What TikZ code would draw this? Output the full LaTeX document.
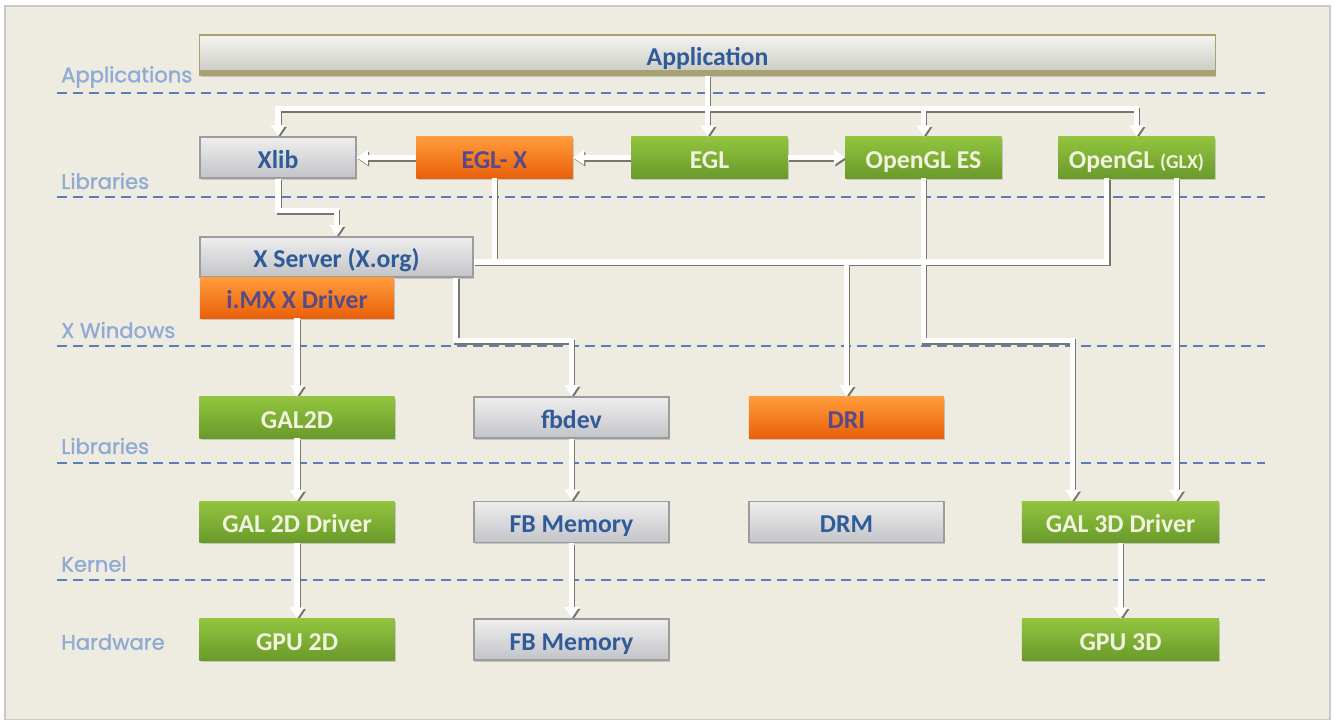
\documentclass[tikz,border=0pt]{standalone}
\usepackage{fontspec}
\setmainfont{Carlito}
\newfontfamily\layerfont{Poppins}[FakeBold=1.2]
\usepackage{xcolor}
\usepackage{tikz}
\usetikzlibrary{arrows.meta,shadows}
\definecolor{bgbeige}{HTML}{EEEBE1}
\definecolor{framegrey}{HTML}{C9C9C9}
\definecolor{dashblue}{HTML}{5B7DB8}
\definecolor{lyrblue}{HTML}{8FAAD3}
\definecolor{txtblue}{HTML}{2F5B98}
\definecolor{txtgreen}{HTML}{F0F4DC}
\definecolor{txtpurple}{HTML}{584A86}
\definecolor{greytop}{HTML}{EEEEEE}
\definecolor{greybot}{HTML}{C3C4C8}
\definecolor{boxedge}{HTML}{9C9C9C}
\definecolor{greentop}{HTML}{92C43F}
\definecolor{greenbot}{HTML}{6A9A2B}
\definecolor{orangetop}{HTML}{FF9B3B}
\definecolor{orangebot}{HTML}{E9600A}
\definecolor{apptop}{HTML}{F5F4F0}
\definecolor{appbot}{HTML}{C8C8C2}
\definecolor{appedge}{HTML}{A8A172}
\definecolor{wiregrey}{HTML}{77766A}

\pgfdeclarelayer{back}
\pgfdeclarelayer{wireshade}
\pgfsetlayers{back,wireshade,main}

% white connector with its shadow drawn one layer lower
\newcommand{\wire}[1]{%
  \begin{pgfonlayer}{wireshade}\draw[wire,wiredrop] #1;\end{pgfonlayer}%
  \draw[wire] #1;}

\begin{document}
\begin{tikzpicture}[x=0.025cm, y=-0.025cm,
    box/.style={minimum height=1.025cm, inner sep=0pt, text height=15.5pt, text depth=0pt,
      font=\fontsize{18.3}{20}\selectfont\bfseries,
      drop shadow={opacity=0.35, shadow xshift=0.8pt, shadow yshift=-1.2pt}},
    greybox/.style={box, draw=boxedge, line width=0.8pt, top color=greytop, bottom color=greybot, text=txtblue},
    greenbox/.style={box, top color=greentop, bottom color=greenbot, text=txtgreen},
    orangebox/.style={box, top color=orangetop, bottom color=orangebot, text=txtpurple},
    appbox/.style={box, draw=appedge, line width=0.8pt, top color=apptop, bottom color=appbot, text=txtblue,
      path picture={\fill[appedge] (path picture bounding box.south west) rectangle ([yshift=0.12cm]path picture bounding box.south east);}},
    narrow/.style={minimum width=3.9cm},
    broad/.style={minimum width=4.875cm},
    lyr/.style={font=\layerfont\fontsize{15}{17}\selectfont, text=lyrblue, anchor=west, inner sep=0pt},
    sep/.style={draw=dashblue, line width=1.1pt, dash pattern=on 0.25cm off 0.15cm},
    wire/.style={draw=white, line width=3.6pt, -{Triangle[length=8pt,width=10pt]}},
    wiredrop/.style={draw=wiregrey, transform canvas={shift={(1pt,-1.2pt)}}}]

    \useasboundingbox (0,0) rectangle (1335,720);
    \begin{pgfonlayer}{back}
    \fill[white] (0,0) rectangle (1335,720);
    \fill[bgbeige, draw=framegrey, line width=1pt] (5,6) rectangle (1330,720);
    % layer separators
    \foreach \yy in {93,197,346,463,580}
        \draw[sep] (57,\yy) -- (1265,\yy);
    \end{pgfonlayer}

    \node[lyr] (lApps) at (61,77) {Applications};
    \node[lyr] (lLibs) at (61,181) {Libraries};
    \node[lyr] (lXwin) at (61,330) {X Windows};
    \node[lyr] (lLibsB) at (61,446) {Libraries};
    \node[lyr] (lKern) at (61,564) {Kernel};
    \node[lyr] (lHw) at (61,642) {Hardware};

    \node[appbox, minimum width=25.375cm, minimum height=1cm] (app) at (707.5,55) {Application};

    \node[greybox, narrow] (xlib) at (278,157.5) {Xlib};
    \node[orangebox, narrow] (eglx) at (494.5,157.5) {EGL- X};
    \node[greenbox, narrow] (egl) at (709.5,157.5) {EGL};
    \node[greenbox, narrow] (gles) at (923.5,157.5) {OpenGL ES};
    \node[greenbox, narrow] (glx) at (1136.5,157.5) {OpenGL {\fontsize{14}{16}\selectfont (GLX)}};

    \node[greybox, minimum width=6.825cm, minimum height=1cm] (xsrv) at (336.5,257) {X Server (X.org)};
    \node[orangebox, minimum width=4.85cm, minimum height=1cm] (imx) at (297,298) {i.MX X Driver};

    \node[greenbox, broad] (gal2d) at (297,417.5) {GAL2D};
    \node[greybox, broad] (fbdev) at (571.5,417.5) {fbdev};
    \node[orangebox, broad] (dri) at (846.5,417.5) {DRI};

    \node[greenbox, broad] (gal2drv) at (297,522) {GAL 2D Driver};
    \node[greybox, broad] (fbmem) at (571.5,522) {FB Memory};
    \node[greybox, broad] (drm) at (846.5,522) {DRM};
    \node[greenbox, minimum width=4.925cm] (gal3drv) at (1120.5,522) {GAL 3D Driver};

    \node[greenbox, broad] (gpu2d) at (297,639.5) {GPU 2D};
    \node[greybox, broad] (fbmemB) at (571.5,639.5) {FB Memory};
    \node[greenbox, minimum width=4.925cm] (gpu3d) at (1120.5,639.5) {GPU 3D};

    \coordinate (bus) at (0,262);
    \coordinate (glxL) at ([xshift=-0.74cm]glx.south);
    \coordinate (glxR) at ([xshift=0.99cm]glx.south);
    \coordinate (gal3dL) at ([xshift=-1.21cm]gal3drv.north);
    \coordinate (xsrvB) at ([xshift=-0.45cm]xsrv.south east);

    % application fan-out
    \wire{(app.south) -- (app.south |- egl.north)}
    \wire{(app.south) -- ++(0,33) -| (xlib.north)}
    \wire{(app.south) -- ++(0,33) -| (gles.north)}
    \wire{(app.south) -- ++(0,33) -| (glx.north)}

    % library row
    \wire{(egl.west) -- (eglx.east)}
    \wire{(egl.east) -- (gles.west)}
    \wire{(eglx.west) -- (xlib.east)}
    \wire{(xlib.south) -- ++(0,32) -| (xsrv.north)}

    % bus to DRI
    \wire{[-] (eglx.south) -- (eglx.south |- bus) -- (glxL |- bus) -- (glxL)}
    \wire{[-] (xsrv.east |- bus) -- (eglx.south |- bus)}
    \wire{(dri.north |- bus) -- (dri.north)}

    % down to the drivers
    \wire{(xsrvB) -- ++(0,63) -| (fbdev.north)}
    \wire{(gles.south) -- ++(0,162) -| (gal3dL)}
    \wire{(glxR) -- (glxR |- gal3drv.north)}
    \wire{(imx.south) -- (gal2d.north)}
    \wire{(gal2d.south) -- (gal2drv.north)}
    \wire{(gal2drv.south) -- (gpu2d.north)}
    \wire{(fbdev.south) -- (fbmem.north)}
    \wire{(fbmem.south) -- (fbmemB.north)}
    \wire{(gal3drv.south) -- (gpu3d.north)}
\end{tikzpicture}
\end{document}
